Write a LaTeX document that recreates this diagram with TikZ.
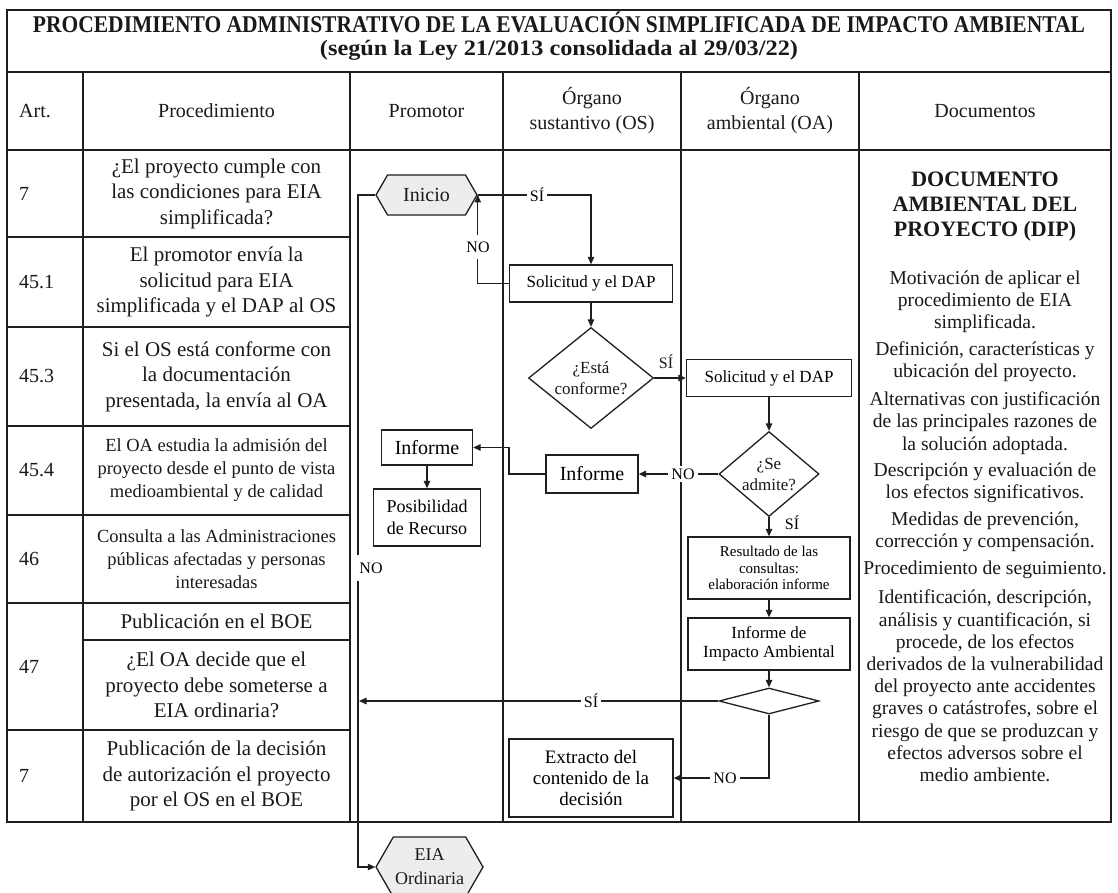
\documentclass[tikz,border=0pt]{standalone}
\usepackage{fontspec}
\setmainfont{Liberation Serif}
\usepackage{graphicx}
\usetikzlibrary{arrows.meta,shapes.geometric,shapes.symbols}

\newcommand{\fs}[2]{\fontsize{#1}{#2}\selectfont}

\begin{document}
\begin{tikzpicture}[x=1pt,y=-1pt,
  rule/.style={draw=black!88, line width=1.4pt},
  thickrule/.style={draw=black!88, line width=2.4pt},
  flow/.style={draw=black!88, line width=1.2pt},
  arr/.style={flow, -{Triangle[length=7.5pt,width=6.5pt]}},
  box/.style={draw=black!88, line width=1.3pt, fill=white, inner sep=0pt, align=center},
  hexa/.style={draw=black!88, line width=1.3pt, fill=black!7, shape=signal,
               signal to=west and east, signal pointer angle=120, inner sep=0pt},
  dia/.style={draw=black!88, line width=1.3pt, fill=white, shape=diamond, inner sep=0pt},
  lbl/.style={fill=white, inner sep=3pt, font=\fs{16}{18}},
  txt/.style={align=center, inner sep=0pt, text=black!90},
  hdr/.style={txt, font=\fs{20}{25}},
  art/.style={txt, anchor=west, font=\fs{20}{24}},
  proc/.style={txt, font=\fs{21}{25.5}},
  procs/.style={txt, font=\fs{18.5}{23}},
  doc/.style={txt, font=\fs{19.6}{22.2}},
]
\useasboundingbox (0,0) rectangle (1118,893);
\clip (0,0) rectangle (1118,893);

% ---------- table frame ----------
\draw[rule] (7,10) rectangle (1111,822);
\draw[rule] (7,72) -- (1111,72);
\draw[thickrule] (7,150) -- (1111,150);
\foreach \xx in {83,350,503,681,859}
  \draw[rule] (\xx,72) -- (\xx,822);
\foreach \yy in {237,327,426,515,603,730}
  \draw[rule] (7,\yy) -- (350,\yy);
\draw[rule] (83,640) -- (350,640);

% ---------- title ----------
\node[txt, anchor=base] (title1) at (559,33) {\fs{24}{24}\bfseries\resizebox{1052pt}{\height}{PROCEDIMIENTO ADMINISTRATIVO DE LA EVALUACIÓN SIMPLIFICADA DE IMPACTO AMBIENTAL}};
\node[txt, anchor=base] (title2) at (559,56) {\fs{22}{24}\bfseries\resizebox{478pt}{\height}{(según la Ley 21/2013 consolidada al 29/03/22)}};

% ---------- header row ----------
\node[hdr, anchor=west] (hArt) at (19,111) {Art.};
\node[hdr] (hProc) at (216.5,111) {Procedimiento};
\node[hdr] (hProm) at (426.5,111) {Promotor};
\node[hdr] (hOS) at (592,111) {Órgano\\sustantivo (OS)};
\node[hdr] (hOA) at (770,111) {Órgano\\ambiental (OA)};
\node[hdr] (hDoc) at (985,111) {Documentos};

% ---------- article numbers ----------
\node[art] (a1) at (19,193.5) {7};
\node[art] (a2) at (19,282) {45.1};
\node[art] (a3) at (19,376.5) {45.3};
\node[art] (a4) at (19,470.5) {45.4};
\node[art] (a5) at (19,559) {46};
\node[art] (a6) at (19,666.5) {47};
\node[art] (a7) at (19,776) {7};

% ---------- procedure steps ----------
\node[proc] (p1) at (216.5,193.5) {¿El proyecto cumple con\\las condiciones para EIA\\simplificada?};
\node[proc] (p2) at (216.5,282) {El promotor envía la\\solicitud para EIA\\simplificada y el DAP al OS};
\node[proc] (p3) at (216.5,376.5) {Si el OS está conforme con\\la documentación\\presentada, la envía al OA};
\node[procs] (p4) at (216.5,470.5) {El OA estudia la admisión del\\proyecto desde el punto de vista\\medioambiental y de calidad};
\node[procs] (p5) at (216.5,559) {Consulta a las Administraciones\\públicas afectadas y personas\\interesadas};
\node[proc] (p6) at (216.5,621.5) {Publicación en el BOE};
\node[proc] (p7) at (216.5,685) {¿El OA decide que el\\proyecto debe someterse a\\EIA ordinaria?};
\node[proc] (p8) at (216.5,776) {Publicación de la decisión\\de autorización el proyecto\\por el OS en el BOE};

% ---------- documents column ----------
\node[txt, font=\fs{22}{25}\bfseries] (dh) at (985,207) {DOCUMENTO\\AMBIENTAL DEL\\PROYECTO (DIP)};
\node[doc] (d01) at (985,302) {Motivación de aplicar el\\procedimiento de EIA\\simplificada.};
\node[doc] (d02) at (985,362) {Definición, características y\\ubicación del proyecto.};
\node[doc] (d03) at (985,423) {Alternativas con justificación\\de las principales razones de\\la solución adoptada.};
\node[doc] (d04) at (985,483) {Descripción y evaluación de\\los efectos significativos.};
\node[doc] (d05) at (985,532) {Medidas de prevención,\\corrección y compensación.};
\node[doc] (d06) at (985,570) {Procedimiento de seguimiento.};
\node[doc] (d07) at (985,686) {Identificación, descripción,\\análisis y cuantificación, si\\procede, de los efectos\\derivados de la vulnerabilidad\\del proyecto ante accidentes\\graves o catástrofes, sobre el\\riesgo de que se produzcan y\\efectos adversos sobre el\\medio ambiente.};

% ---------- flow shapes ----------
\node[hexa, minimum width=101pt, minimum height=40pt] (ini) at (426.5,195) {};
\node[txt, font=\fs{20}{22}] (iniT) at (ini) {Inicio};

\node[box, minimum width=163pt, minimum height=37pt, font=\fs{17}{19}] (sol1) at (591,283.5) {Solicitud y el DAP};
\node[dia, minimum width=125pt, minimum height=101pt] (d1) at (591,378) {};
\node[txt, font=\fs{17}{21}] (d1T) at (d1) {¿Está\\conforme?};

\node[box, minimum width=165pt, minimum height=37pt, font=\fs{17}{19}] (sol2) at (769,378) {Solicitud y el DAP};
\node[dia, minimum width=100pt, minimum height=85pt] (d2) at (769,474) {};
\node[txt, font=\fs{17}{21}] (d2T) at (d2) {¿Se\\admite?};

\node[box, minimum width=92pt, minimum height=38pt, font=\fs{20}{22}] (inf2) at (592,474) {Informe};
\node[box, minimum width=91pt, minimum height=35pt, font=\fs{20}{22}] (inf1) at (427,447.5) {Informe};
\node[box, minimum width=107pt, minimum height=57pt, font=\fs{18}{22}] (pos) at (427,517.5) {Posibilidad\\de Recurso};

\node[box, minimum width=162pt, minimum height=62pt, font=\fs{15}{16.5}] (res) at (769,568) {Resultado de las\\consultas:\\elaboración informe};
\node[box, minimum width=162pt, minimum height=52pt, font=\fs{17}{18.5}] (iia) at (769,644) {Informe de\\Impacto Ambiental};
\node[dia, minimum width=100pt, minimum height=26pt] (d3) at (769,701) {};

\node[box, minimum width=164pt, minimum height=78pt, font=\fs{19}{21}] (ext) at (591,778) {Extracto del\\contenido de la\\decisión};

\node[hexa, minimum width=107pt, minimum height=60pt] (eia) at (429.5,867) {};
\node[txt, font=\fs{18}{24}] (eiaT) at (eia) {EIA\\Ordinaria};

% ---------- connectors ----------
\coordinate (vx) at (358,0);
\coordinate (bx) at (509,0);

\draw[arr] (ini.west) -- (ini.west -| vx) -- (eia.west -| vx) -- (eia.west);
\draw[arr] (ini.east) -- (ini.east -| sol1.north) -- (sol1.north);
\draw[arr] (sol1.west) -- (sol1.west -| ini.east) -- (ini.east);
\draw[arr] (sol1.south) -- (d1.north);
\draw[arr] (d1.east) -- (sol2.west);
\draw[arr] (sol2.south) -- (d2.north);
\draw[arr] (d2.west) -- (inf2.east);
\draw[arr] (inf2.west) -- (inf2.west -| bx) |- (inf1.east);
\draw[arr] (inf1.south) -- (pos.north);
\draw[arr] (d2.south) -- (res.north);
\draw[arr] (res.south) -- (iia.north);
\draw[arr] (iia.south) -- (d3.north);
\draw[arr] (d3.west) -- ([xshift=1pt]d3.west -| vx);
\draw[arr] (d3.south) |- (ext.east);

% ---------- branch labels ----------
\node[lbl] (lSi1) at (537,195) {SÍ};
\node[lbl, inner ysep=7pt] (lNo1) at (478,247) {NO};
\node[txt, font=\fs{16}{18}] (lSi2) at (666,362) {SÍ};
\node[lbl] (lNo2) at (683,474) {NO};
\node[lbl, inner ysep=6pt] (lSi3) at (792,523) {SÍ};
\node[lbl, inner ysep=6pt] (lSi4) at (591,701) {SÍ};
\node[lbl] (lNo3) at (725,778) {NO};
\node[lbl, inner ysep=8pt] (lNo4) at (371,568) {NO};
\end{tikzpicture}
\end{document}
